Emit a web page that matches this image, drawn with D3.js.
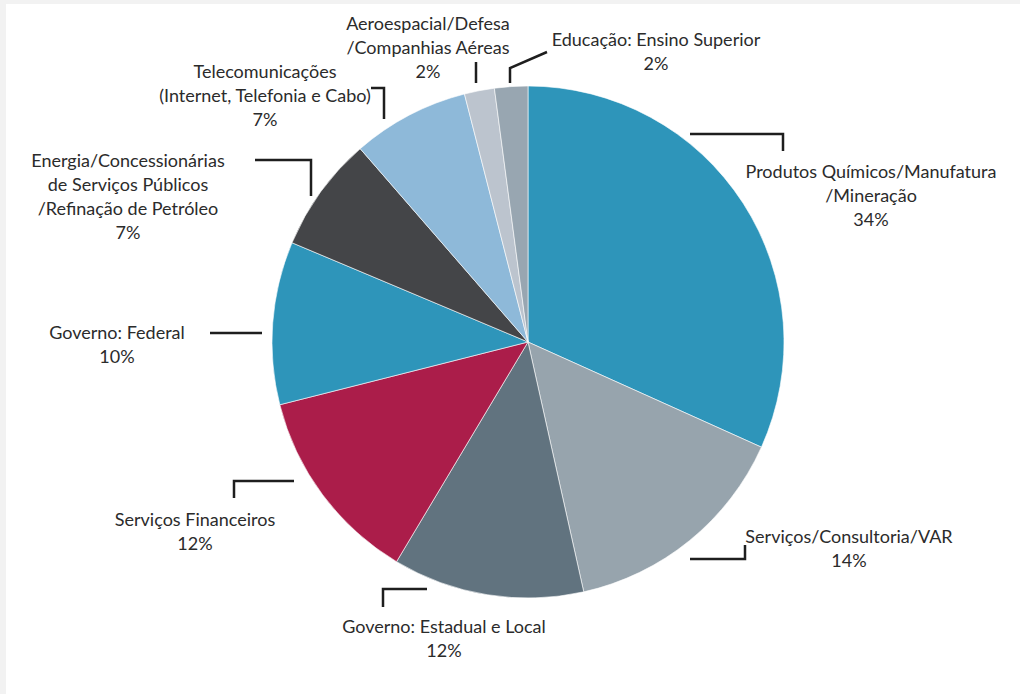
<!DOCTYPE html>
<html>
<head>
<meta charset="utf-8">
<script src="https://cdn.jsdelivr.net/npm/d3@7"></script>
<style>
  html, body { margin: 0; padding: 0; background: #f2f2f2; }
  #chart { position: absolute; left: 6px; top: 4px; }
  text { font-family: Lato, "Open Sans", sans-serif; fill: #2b2b2b; }
</style>
</head>
<body>
<svg id="chart" width="1014" height="690"></svg>
<script>
'use strict';

// slice categories, clockwise from 12 o'clock
const categories = [
  "Produtos Químicos/Manufatura/Mineração",
  "Serviços/Consultoria/VAR",
  "Governo: Estadual e Local",
  "Serviços Financeiros",
  "Governo: Federal",
  "Energia/Concessionárias de Serviços Públicos/Refinação de Petróleo",
  "Telecomunicações (Internet, Telefonia e Cabo)",
  "Aeroespacial/Defesa/Companhias Aéreas",
  "Educação: Ensino Superior"
];
// slice sizes as drawn (share of the circle, %)
const shares = [31.8, 14.8, 12.1, 12.5, 10.3, 7.3, 7.4, 1.9, 2.1];
// percentages printed on the labels
const pctLabels = ["34%", "14%", "12%", "12%", "10%", "7%", "7%", "2%", "2%"];
// label text lines
const labelLines = [
  ["Produtos Químicos/Manufatura", "/Mineração"],
  ["Serviços/Consultoria/VAR"],
  ["Governo: Estadual e Local"],
  ["Serviços Financeiros"],
  ["Governo: Federal"],
  ["Energia/Concessionárias", "de Serviços Públicos", "/Refinação de Petróleo"],
  ["Telecomunicações", "(Internet, Telefonia e Cabo)"],
  ["Aeroespacial/Defesa", "/Companhias Aéreas"],
  ["Educação: Ensino Superior"]
];
const colors = ["#2e95ba", "#97a4ad", "#61737f", "#ab1d4a", "#2e95ba",
                "#444548", "#8eb9d9", "#bcc4ce", "#98a6b1"];

// label placement (page coords) and leader polylines
const layout = [
  {x: 871, y: 172, leader: [[690, 134], [783, 134], [783, 151]]},
  {x: 849, y: 537, leader: [[690, 559], [745, 559], [745, 545]]},
  {x: 444, y: 627, leader: [[427, 589], [383, 589], [383, 607]]},
  {x: 195, y: 520, leader: [[294, 481], [234, 481], [234, 498]]},
  {x: 117, y: 333, leader: [[210, 333], [262, 333]]},
  {x: 128, y: 161, leader: [[255, 160], [311, 160], [311, 196]]},
  {x: 265, y: 72,  leader: [[371, 88], [384, 88], [384, 119]]},
  {x: 428, y: 24,  leader: [[476, 62], [476, 83]]},
  {x: 656, y: 40,  leader: [[510, 83], [510, 68], [547, 52]]}
];

let cx = 528 - 6, cy = 342 - 4, radius = 256;
let lineH = 24;

let svg = d3.select("#chart");
svg.append("rect").attr("width", 1014).attr("height", 690).style("fill", "#ffffff");

let pie = d3.pie().sort(null).value(d => d)(shares);
let arc = d3.arc().innerRadius(0).outerRadius(radius);

let g = svg.append("g").attr("transform", `translate(${cx},${cy})`);
g.selectAll("path.slice")
  .data(pie)
  .enter().append("path")
  .attr("class", "slice")
  .attr("d", arc)
  .style("fill", (d, i) => colors[i])
  .style("stroke", "#ffffff")
  .style("stroke-width", 0.6);

// leader lines
let lab = svg.append("g").attr("transform", "translate(-6,-4)");
let line = d3.line();
lab.selectAll("path.leader")
  .data(layout)
  .enter().append("path")
  .attr("class", "leader")
  .attr("d", d => line(d.leader))
  .style("fill", "none")
  .style("stroke", "#1e1e1e")
  .style("stroke-width", 2.5);

// labels
categories.forEach((c, i) => {
  let t = lab.append("text")
    .attr("x", layout[i].x)
    .attr("y", layout[i].y)
    .style("text-anchor", "middle")
    .style("font-size", "18px");
  labelLines[i].concat([pctLabels[i]]).forEach((s, k) => {
    t.append("tspan")
      .attr("x", layout[i].x)
      .attr("y", layout[i].y + k * lineH)
      .attr("dy", "0.35em")
      .text(s);
  });
});
</script>
</body>
</html>
